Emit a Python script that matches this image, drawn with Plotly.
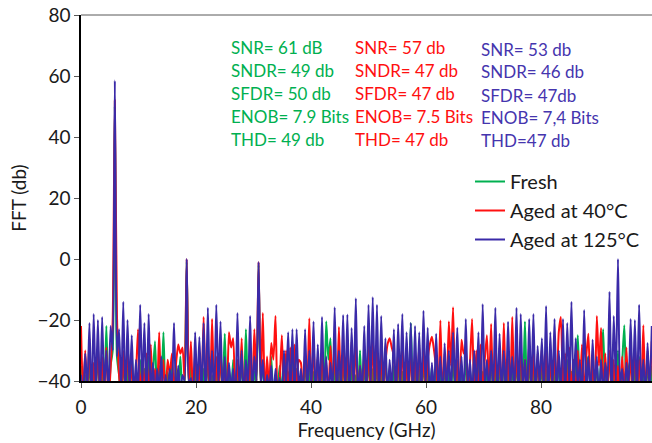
import plotly.graph_objects as go

# frequency bin spacing (GHz)
bin_ghz = 100 / 272

fresh = [
    -35, -46, -38, -44, -33, -47, -36, -43, -31, -45,
    -37, -44, -22, -46, -35, -30, 50, -32, -38, -45,
    -34, -43, -36, -47, -31, -44, -38, -45, -33, -46,
    -36, -44, -32, -47, -38, -27, -45, -35, -43, -24,
    -46, -37, -44, -33, -47, -35, -43, -32, -45, -40,
    -1, -42, -34, -46, -37, -44, -32, -47, -36, -43,
    -33, -45, -38, -44, -35, -46, -31, -43, -24.5, -45,
    -36, -44, -33, -47, -37, -43, -34, -45, -23, -44,
    -35, -46, -37, -41, -2, -42, -34, -45, -36, -44,
    -32, -47, -38, -43, -35, -45, -33, -44, -37, -46,
    -34, -43, -36, -47, -38, -44, -33, -45, -35, -46,
    -37, -44, -32, -43, -36, -45, -20.5, -33, -26, -46,
    -35, -44, -37, -47, -33, -43, -36, -45, -34, -46,
    -38, -44, -30, -47, -35, -43, -33, -45, -36, -44,
    -34, -46, -37, -43, -32, -45, -36, -47, -35, -44,
    -33, -46, -37, -43, -35, -45, -21, -44, -34, -46,
    -36, -43, -33, -47, -37, -44, -35, -45, -32, -46,
    -38, -44, -34, -47, -36, -43, -33, -45, -37, -44,
    -35, -46, -32, -43, -36, -45, -34, -47, -33, -44,
    -37, -46, -35, -43, -33, -45, -36, -44, -34, -47,
    -32, -43, -37, -45, -35, -44, -33, -46, -36, -43,
    -20.5, -45, -34, -44, -37, -47, -33, -43, -35, -46,
    -36, -44, -32, -47, -37, -43, -34, -45, -36, -44,
    -33, -46, -37, -43, -35, -25, -44, -34, -46, -36,
    -32, -43, -37, -45, -34, -44, -33, -23, -46, -36,
    -35, -44, -37, -47, -30, -45, -34, -21.7, -43, -36,
    -33, -46, -35, -44, -32, -45, -37, -43, -34, -46,
    -35,
]

aged_40 = [
    -22, -45, -30, -44, -26, -48, -34, -43, -28, -46,
    -32, -44, -29, -47, -36, -20, 52, -18, -38, -45,
    -30, -46, -27, -44, -33, -47, -38, -23, -45, -35,
    -42, -31, -46, -28, -44, -36, -43, -24, -47, -33,
    -45, -33, -38, -31, -44, -34, -28, -31, -29, -40,
    0, -42, -27, -46, -30, -44, -35, -45, -19, -43,
    -29, -46, -19.7, -44, -32, -47, -30, -43, -36, -45,
    -24, -29, -26, -46, -33, -44, -26, -47, -35, -45,
    -31, -44, -23, -40, -1, -42, -17.7, -45, -32, -43,
    -27.5, -33, -18.7, -46, -40, -25, -44, -30, -46, -29,
    -45, -28, -44, -33, -34, -45, -30, -43, -19.4, -46,
    -27, -44, -32, -47, -29, -43, -34, -45, -28.5, -42,
    -30, -46, -22.3, -44, -29, -47, -31, -43, -27, -45,
    -26, -44, -35, -46, -30, -43, -28, -47, -25, -44,
    -29, -45, -31, -44, -34, -28, -26, -29, -32, -45,
    -30, -43, -27, -47, -33, -44, -29, -46, -31, -43,
    -28, -45, -30, -44, -33, -28, -25.5, -30, -36, -44,
    -20.2, -46, -31, -43, -20.5, -35, -15.8, -45, -33, -44,
    -26.5, -31, -29, -45, -34, -19.7, -44, -30, -46, -28,
    -44, -33, -25, -42, -21.3, -46, -30, -44, -29, -47,
    -21, -43, -32, -45, -19, -44, -30, -46, -28, -43,
    -33, -45, -27, -44, -30, -47, -31, -43, -29, -45,
    -28, -44, -32, -46, -30, -43, -24, -19, -44, -31,
    -45, -29, -44, -33, -46, -30, -43, -28, -45, -32,
    -24.5, -44, -34, -46, -18.7, -35, -22.6, -44, -31, -45,
    -30, -43, -33, -46, -35, -45, -32, -44, -29, -46,
    -31, -43, -28, -45, -33, -44, -21.7, -46, -30, -43,
    -27,
]

# Aged at 125 C: values on even bins (peaks) and odd bins (floor)
aged_125_even = [
    -38, -31, -21, -18, -20, -19, -30, -22, 58.5, -23,
    -14, -20, -25, -33, -15, -21, -18, -34, -36, -32,
    -38, -36, -21, -35, -38, 0, -39, -24, -25.6, -21,
    -16, -30, -15, -20.5, -32, -34, -36, -17.7, -30, -33,
    -18.7, -32, -1, -33, -38, -35, -36, -39, -30, -24,
    -23, -23, -36, -23, -30, -20.5, -28, -19, -32, -34,
    -15.8, -30, -18.4, -18.2, -22.6, -12.9, -35, -22, -15, -12.5,
    -15, -18.7, -26, -33, -23, -21.3, -18, -24, -21, -22,
    -24, -17, -22.5, -34, -24.5, -32, -27.6, -30, -24, -22.5,
    -32, -19.7, -33, -30, -24, -14.8, -33, -30, -16, -24.5,
    -30, -20.6, -32, -16, -18, -33, -19.7, -18, -28.5, -26,
    -15.4, -24, -19.7, -30, -19.7, -21, -14, -26, -33, -16.7,
    -32, -26.5, -32, -33, -34, -10.7, -18.7, 0, -36, -34,
    -19.7, -20, -15, -33, -27.5, -22,
]
aged_125_odd = [
    -46, -43, -48, -44, -47, -42, -45, -30, -32, -44,
    -47, -43, -46, -45, -42, -48, -44, -46, -43, -47,
    -45, -42, -46, -44, -40, -41, -47, -43, -45, -48,
    -44, -46, -42, -47, -45, -43, -48, -44, -46, -42,
    -45, -40, -41, -47, -43, -46, -44, -48, -42, -45,
    -47, -43, -46, -44, -42, -48, -45, -43, -47, -44,
    -46, -42, -45, -48, -43, -47, -44, -46, -42, -45,
    -48, -43, -46, -44, -47, -42, -45, -43, -48, -44,
    -46, -42, -47, -45, -43, -48, -44, -46, -42, -45,
    -47, -43, -46, -44, -48, -42, -45, -43, -47, -44,
    -46, -42, -45, -48, -43, -47, -44, -46, -42, -45,
    -48, -43, -46, -44, -47, -42, -45, -43, -48, -44,
    -46, -42, -47, -45, -43, -48, -40, -41, -46, -42,
    -45, -47, -43, -46, -44,
]
aged_125 = []
for i in range(len(aged_125_even)):
    aged_125.append(aged_125_even[i])
    if i < len(aged_125_odd):
        aged_125.append(aged_125_odd[i])

series_names = ["Fresh", "Aged at 40°C", "Aged at 125°C"]
series_values = [fresh, aged_40, aged_125]
series_colors = ["#00B050", "#FF1010", "#3A2AA8"]

x_ticks = [0, 20, 40, 60, 80]
y_ticks = [-40, -20, 0, 20, 40, 60, 80]

metrics_fresh = ["SNR= 61 dB", "SNDR= 49 db", "SFDR= 50 db", "ENOB= 7.9 Bits", "THD= 49 db"]
metrics_40 = ["SNR= 57 db", "SNDR= 47 db", "SFDR= 47 db", "ENOB= 7.5 Bits", "THD= 47 db"]
metrics_125 = ["SNR= 53 db", "SNDR= 46 db", "SFDR= 47db", "ENOB= 7,4 Bits", "THD=47 db"]

FONT = "Lato"
fig = go.Figure()
for k, (name, vals, col) in enumerate(zip(series_names, series_values, series_colors)):
    fig.add_trace(go.Scatter(
        x=[i * bin_ghz for i in range(len(vals))], y=vals, mode="lines", name=name,
        line=dict(color=col, width=2, shape="spline", smoothing=0.6),
        legendgroup="g%d" % k,
    ))

W, H = 652, 443
L, R, T, B = 81, 0, 15, 62
pw, ph = W - L - R, H - T - B

def px_x(p):
    return (p - L) / pw

def px_y(p):
    return (H - B - p) / ph

columns = [(metrics_fresh, 229, series_colors[0], [47.5, 70.5, 93.5, 116.5, 139.5]),
           (metrics_40, 353, series_colors[1], [47.5, 70.5, 93.5, 116.5, 139.5]),
           (metrics_125, 479, "#4535AE", [49, 72, 95, 117.5, 140.5])]
for texts, xl, col, ys in columns:
    for t, yy in zip(texts, ys):
        fig.add_annotation(x=px_x(xl), y=px_y(yy), xref="paper", yref="paper",
                           text=t, showarrow=False, xanchor="left", yanchor="middle",
                           font=dict(family=FONT, size=17, color=col))

fig.add_shape(type="line", xref="paper", yref="paper", x0=0, x1=1, y0=1, y1=1,
              line=dict(color="#595959", width=1))

fig.update_layout(
    width=W, height=H,
    margin=dict(l=L, r=R, t=T, b=B, pad=0),
    paper_bgcolor="white", plot_bgcolor="white",
    font=dict(family=FONT, size=19, color="#1a1a1a"),
    showlegend=True,
    legend=dict(x=px_x(470), y=px_y(162), xanchor="left", yanchor="top",
                bgcolor="rgba(0,0,0,0)", font=dict(family=FONT, size=20, color="#1a1a1a"),
                tracegroupgap=0, itemwidth=30),
    xaxis=dict(range=[0, 99.3], tickvals=x_ticks, ticks="outside", ticklen=5,
               tickcolor="#595959", showline=True, linecolor="#000000", linewidth=1.5,
               showgrid=False, zeroline=False, automargin=False, ticklabelstandoff=3,
               title=dict(text="Frequency (GHz)", standoff=0, font=dict(size=19))),
    yaxis=dict(range=[-40, 80], tickvals=y_ticks, ticks="outside", ticklen=5,
               tickcolor="#595959", showline=True, linecolor="#000000", linewidth=1.5,
               showgrid=False, zeroline=False, automargin=False,
               title=dict(text="FFT (db)", standoff=6, font=dict(size=19))),
)

fig.write_html("out.html", config={"displayModeBar": False},
               post_script="document.body.style.margin='0';document.body.style.overflow='hidden';")
